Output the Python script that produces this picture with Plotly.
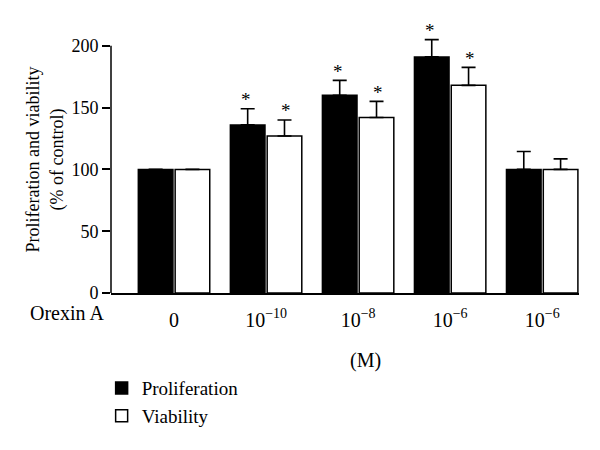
import plotly.graph_objects as go

categories = ["0", "10<sup>\u221210</sup>", "10<sup>\u22128</sup>", "10<sup>\u22126</sup>", "10<sup>\u22126</sup>"]
proliferation = [100, 136, 160, 191, 100]
proliferation_err = [0, 13, 12, 14, 14.5]
viability = [100, 127, 142, 168, 100]
viability_err = [0, 13, 13, 14.5, 8.5]
prolif_sig = [False, True, True, True, False]
viab_sig = [False, True, True, True, False]
y_ticks = [0, 50, 100, 150, 200]

FONT = "Liberation Serif"
FS = 20
x = list(range(len(categories)))
Y_TOP = 216  # axis range top (the drawn axis line stops at the last tick)

fig = go.Figure()
fig.add_trace(go.Bar(
    x=x, y=proliferation, name="Proliferation", legendgroup="a",
    marker=dict(color="black", line=dict(color="black", width=1.5)),
    error_y=dict(type="data", symmetric=False, array=proliferation_err,
                 arrayminus=[0]*len(x), color="black", thickness=1.6, width=7),
))
fig.add_trace(go.Bar(
    x=x, y=viability, name="Viability", legendgroup="b",
    marker=dict(color="white", line=dict(color="black", width=1.5)),
    error_y=dict(type="data", symmetric=False, array=viability_err,
                 arrayminus=[0]*len(x), color="black", thickness=1.6, width=7),
))

# significance asterisks
for i in x:
    if prolif_sig[i]:
        fig.add_annotation(x=i, y=proliferation[i] + proliferation_err[i], text="*",
                           showarrow=False, xshift=-20, yshift=9,
                           font=dict(family=FONT, size=19, color="black"))
    if viab_sig[i]:
        fig.add_annotation(x=i, y=viability[i] + viability_err[i], text="*",
                           showarrow=False, xshift=20, yshift=9,
                           font=dict(family=FONT, size=19, color="black"))

# y axis line from 0 to last tick
fig.add_shape(type="line", xref="paper", yref="y", x0=0, x1=0,
              y0=y_ticks[0], y1=y_ticks[-1], line=dict(color="black", width=1.5))

fig.add_annotation(xref="paper", yref="paper", x=-0.01, y=-0.075, text="Orexin A",
                   showarrow=False, xanchor="right", yanchor="middle",
                   font=dict(family=FONT, size=FS, color="black"))
fig.add_annotation(xref="paper", yref="paper", x=0.543, y=-0.252, text="(M)",
                   showarrow=False, xanchor="center", yanchor="middle",
                   font=dict(family=FONT, size=FS, color="black"))

fig.update_layout(
    width=600, height=450,
    margin=dict(l=103, r=29, t=18, b=165),
    paper_bgcolor="white", plot_bgcolor="white",
    font=dict(family=FONT, size=FS, color="black"),
    barmode="group", bargap=0.2, bargroupgap=0.06,
    showlegend=True,
    legend=dict(x=-0.02, y=-0.285, xanchor="left", yanchor="top",
                font=dict(family=FONT, size=19), tracegroupgap=0,
                bgcolor="rgba(0,0,0,0)"),
    xaxis=dict(range=[-0.685, 4.40], tickvals=x, ticktext=categories,
               showline=True, linecolor="black", linewidth=1.5,
               ticks="", showgrid=False, zeroline=False, ticklabelstandoff=8,
               tickfont=dict(family=FONT, size=FS)),
    yaxis=dict(range=[0, Y_TOP], tickvals=y_ticks,
               showline=False,
               ticks="outside", ticklen=8, tickwidth=1.5, tickcolor="black",
               showgrid=False, zeroline=False,
               title=dict(text="Proliferation and viability<br>(% of control)",
                          font=dict(family=FONT, size=18), standoff=3),
               tickfont=dict(family=FONT, size=18)),
)
fig.update_traces(cliponaxis=False)

fig.write_html("out.html")
